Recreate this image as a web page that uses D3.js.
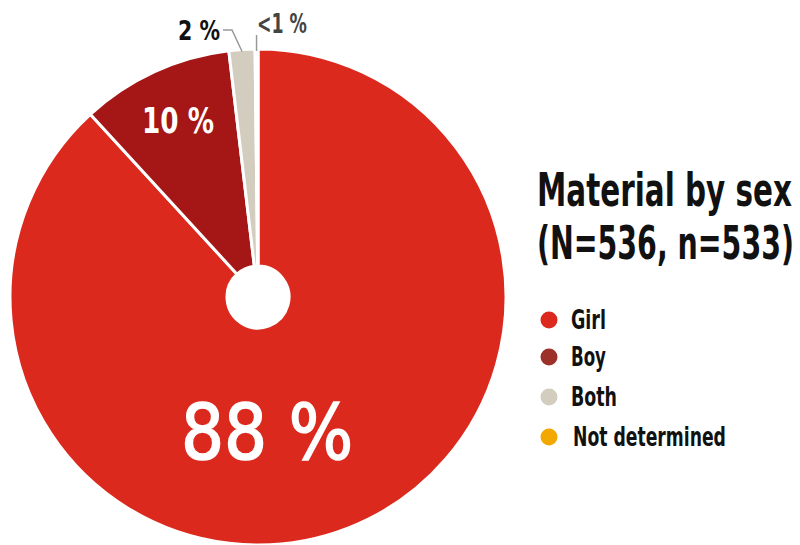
<!DOCTYPE html>
<html><head><meta charset="utf-8">
<script src="https://cdn.jsdelivr.net/npm/d3@7"></script>
<style>
body{margin:0;background:#fff;}
text{font-family:"DejaVu Sans Condensed","DejaVu Sans",sans-serif;font-stretch:condensed;font-weight:bold;}
text.light{font-weight:normal;stroke:#fff;stroke-width:1.6px;}
</style></head>
<body>
<svg id="c" width="800" height="545"></svg>
<script>
const categories = ["Girl","Boy","Both","Not determined"];
const counts = [470, 53, 9, 1];
const sliceLabels = ["88 %","10 %","2 %","<1 %"];
const sliceColors = ["#db291e","#a51716","#d3cdc0","#f3a800"];
const legendColors = ["#db291e","#9b3128","#d3cdc0","#f3a800"];
const title = ["Material by sex","(N=536, n=533)"];

const svg = d3.select("#c");
const cx = 258, cy = 297, R = 248, r0 = 31;
const pie = d3.pie().sort(null).value(d=>d)(counts);
const arc = d3.arc().innerRadius(r0).outerRadius(R);
const g = svg.append("g").attr("transform",`translate(${cx},${cy})`);
g.selectAll("path").data(pie).join("path")
  .attr("d",arc).attr("fill",(d,i)=>sliceColors[i])
  .attr("stroke","#fff").attr("stroke-width",3).attr("stroke-linejoin","round");
g.append("circle").attr("r",r0).attr("fill","#fff");

// place text at (x,y) squeezed horizontally to width w
function addText(parent, x, y, str, size, w, opts={}){
  const t = parent.append("text").attr("font-size",size).text(str)
    .attr("text-anchor",opts.anchor||"start").attr("fill",opts.fill||"#111");
  if(opts.cls) t.attr("class",opts.cls);
  const L = t.node().getComputedTextLength();
  t.attr("transform",`translate(${x},${y}) scale(${w/L},1)`);
  return t;
}

// inside labels
addText(g, 9, 162, sliceLabels[0], 76, 172, {anchor:"middle", fill:"#fff", cls:"light"});
addText(g, -80, -164, sliceLabels[1], 35, 72, {anchor:"middle", fill:"#fff"});

// outside labels with leader lines
const aBoth = (pie[2].startAngle+pie[2].endAngle)/2;
const pBoth = [Math.sin(aBoth)*(R-2), -Math.cos(aBoth)*(R-2)];
g.append("polyline").attr("points",`${-35},${-267} ${-26},${-267} ${pBoth[0]},${pBoth[1]}`)
  .attr("fill","none").attr("stroke","#999").attr("stroke-width",1.5);
addText(g, -38, -257, sliceLabels[2], 27, 42, {anchor:"end"});
const aND = (pie[3].startAngle+pie[3].endAngle)/2;
g.append("line").attr("x1",Math.sin(aND)*(R-2)).attr("y1",-Math.cos(aND)*(R-2))
  .attr("x2",Math.sin(aND)*(R-2)).attr("y2",-262)
  .attr("stroke","#999").attr("stroke-width",1.5);
addText(g, -1, -264, sliceLabels[3], 27, 50, {fill:"#444"});

// title
addText(svg, 537, 206, title[0], 47, 255);
addText(svg, 537, 259, title[1], 47, 257);

// legend
const ly = [320,357,397,437];
const lw = [35,35,46,153];
categories.forEach((c,i)=>{
  const row = svg.append("g").attr("transform",`translate(549,${ly[i]})`);
  row.append("circle").attr("r",8.5).attr("fill",legendColors[i]);
  addText(row, i===3?24:22, 9, c, 26, lw[i]);
});
</script>
</body></html>
